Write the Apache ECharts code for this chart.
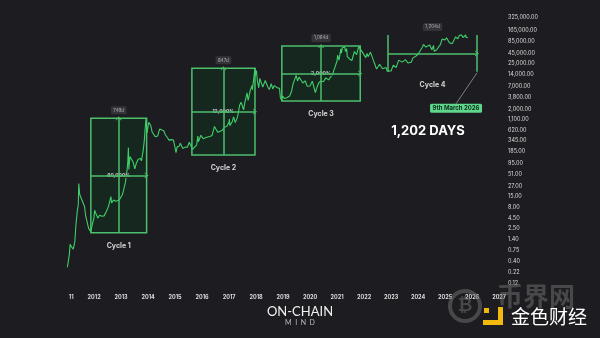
<!DOCTYPE html>
<html><head><meta charset="utf-8">
<script src="https://cdn.jsdelivr.net/npm/echarts@6/dist/echarts.min.js"></script>
<style>html,body{margin:0;padding:0;background:#1c1c21;}#c{width:600px;height:338px;}</style>
</head><body><div id="c"></div>
<script>
// ---- price history (approx.) ----
const dates = [
'2011-01-05','2011-02-01','2011-02-10','2011-03-01','2011-03-25','2011-04-15','2011-05-01','2011-05-20','2011-06-01','2011-06-08','2011-06-20','2011-07-01','2011-07-20','2011-08-10','2011-08-25','2011-09-10','2011-10-01','2011-10-20','2011-11-18','2011-12-05','2011-12-31',
'2012-01-08','2012-01-25','2012-02-20','2012-03-15','2012-04-15','2012-05-15','2012-06-15','2012-07-15','2012-08-16','2012-08-25','2012-09-20','2012-10-20','2012-11-20','2012-12-20',
'2013-01-20','2013-02-10','2013-02-28','2013-03-20','2013-04-01','2013-04-10','2013-04-16','2013-04-30','2013-05-20','2013-06-15','2013-07-05','2013-07-25','2013-08-20','2013-09-20','2013-10-03','2013-10-25','2013-11-10','2013-11-20','2013-12-04','2013-12-18','2013-12-31',
'2014-01-10','2014-02-05','2014-02-25','2014-03-20','2014-04-10','2014-05-10','2014-06-05','2014-07-01','2014-08-01','2014-08-20','2014-09-20','2014-10-10','2014-11-10','2014-12-10','2014-12-31',
'2015-01-14','2015-01-28','2015-02-25','2015-03-12','2015-04-15','2015-05-15','2015-06-15','2015-07-12','2015-08-01','2015-08-24','2015-09-20','2015-10-20','2015-11-04','2015-11-12','2015-12-15','2015-12-31',
'2016-01-15','2016-02-15','2016-03-15','2016-04-15','2016-05-15','2016-06-17','2016-07-01','2016-08-02','2016-09-01','2016-10-01','2016-11-01','2016-12-01','2016-12-31',
'2017-01-05','2017-01-12','2017-02-15','2017-03-03','2017-03-25','2017-04-25','2017-05-25','2017-06-12','2017-07-16','2017-08-01','2017-09-01','2017-09-15','2017-10-15','2017-11-08','2017-11-12','2017-12-17','2017-12-22','2017-12-31',
'2018-01-06','2018-01-17','2018-02-06','2018-02-20','2018-03-05','2018-04-01','2018-05-05','2018-06-10','2018-06-29','2018-07-25','2018-08-14','2018-09-04','2018-10-15','2018-11-14','2018-11-25','2018-12-15','2018-12-24',
'2019-01-25','2019-02-25','2019-03-31','2019-04-25','2019-05-15','2019-06-26','2019-07-16','2019-08-06','2019-09-24','2019-10-26','2019-11-24','2019-12-18','2019-12-31',
'2020-01-31','2020-02-13','2020-03-12','2020-03-31','2020-04-30','2020-05-31','2020-06-30','2020-07-31','2020-08-17','2020-09-08','2020-10-31','2020-11-30','2020-12-31',
'2021-01-08','2021-01-27','2021-02-21','2021-02-28','2021-03-13','2021-04-14','2021-04-25','2021-05-10','2021-05-19','2021-06-22','2021-07-20','2021-08-23','2021-09-21','2021-10-20','2021-11-10','2021-12-04','2021-12-31',
'2022-01-24','2022-02-10','2022-02-24','2022-03-28','2022-05-12','2022-06-18','2022-07-30','2022-08-15','2022-09-07','2022-10-25','2022-11-09','2022-11-21','2022-12-31',
'2023-01-31','2023-02-16','2023-03-10','2023-04-14','2023-05-31','2023-06-15','2023-07-13','2023-08-17','2023-09-30','2023-10-24','2023-11-30','2023-12-31',
'2024-01-23','2024-02-28','2024-03-14','2024-04-15','2024-05-01','2024-06-07','2024-07-05','2024-07-29','2024-08-05','2024-09-06','2024-10-29','2024-11-22','2024-12-17','2024-12-31',
'2025-01-21','2025-02-28','2025-03-25','2025-04-08','2025-05-22','2025-06-22','2025-07-14','2025-08-02','2025-08-14','2025-09-01','2025-10-06','2025-10-10','2025-10-27','2025-11-04'
];
const prices = [
0.29,0.6,1.05,0.9,0.8,1.2,3.2,7,9.5,31,17,15,13.5,10,8.5,5,5,2.5,2.1,3,4.7,
7,5.8,4.5,5.3,5,5.1,6.5,8.8,15,10.5,12.3,11.5,12,13.4,
17,24,33,60,100,230,68,140,122,100,70,95,120,125,110,190,330,600,1150,520,750,
950,800,550,580,420,440,650,640,590,480,400,350,360,350,320,
175,240,250,295,220,237,235,310,280,210,230,270,440,320,460,430,
380,400,415,430,455,750,670,540,575,610,730,750,960,
1130,780,1010,1280,930,1280,2500,2900,1900,2800,4900,3200,5700,7400,5800,19600,13000,13800,
17000,10000,6500,11000,11500,6800,9800,6700,5900,8200,6100,7350,6500,6300,3800,3200,4100,
3550,3800,4100,5300,8000,13000,9500,11900,8500,9600,7100,6600,7200,
9400,10350,5000,6400,8700,9500,9150,11300,12300,10100,13800,19700,29000,
40000,30500,57000,45000,61000,63500,49000,58000,37000,32000,29800,49500,41000,65000,67500,49000,46300,
35000,44000,37000,47500,28500,18500,24000,24300,18800,20100,16500,15800,16550,
23100,24700,20000,30500,27200,25000,31400,26000,27000,34500,37700,42300,
39500,62500,73000,63000,57500,71000,54500,69000,50000,53500,72500,99000,107000,93400,
106000,80000,88000,76500,111000,100500,122000,113000,123000,107500,124500,110000,115000,106000
];

// ---- cycles ----
const cycleNames = ['Cycle 1','Cycle 2','Cycle 3','Cycle 4'];
const cycleStart = ['2011-11-18','2015-08-16','2018-12-15','2022-11-21'];
const cycleEnd   = ['2013-12-12','2017-12-17','2021-11-10','2026-03-09'];
const cycleLow   = [2.0, 152, 3100, 15900];
const cycleHigh  = [1180, 19300, 67000, 123000];
const cycleDays  = ['749d','847d','1,064d','1,204d'];
const cycleGain  = ['60,000%','12,000%','2,000%'];

// ---- axis ticks ----
const xTicks = ['2011-02-25','2012-01-01','2013-01-01','2014-01-01','2015-01-01','2016-01-01','2017-01-01','2018-01-01','2019-01-01','2020-01-01','2021-01-01','2022-01-01','2023-01-01','2024-01-01','2025-01-01','2026-01-01','2027-01-01'];
const yTicks = [0.12,0.22,0.40,0.75,1.40,2.50,4.50,8.00,15,27,51,95,185,345,620,1100,2000,3800,7000,14000,25000,45000,85000,165000,325000];

// date string -> decimal year
const yr = s => {
  const d = new Date(s + 'T00:00:00Z'), y = d.getUTCFullYear();
  const a = Date.UTC(y, 0, 1), b = Date.UTC(y + 1, 0, 1);
  return y + (d.getTime() - a) / (b - a);
};
const GREEN = '#4cc06c';
const FILL = '#16271f';
const chevron = 'path://M0,10 L5,0 L10,10 L8.4,10 L5,3.2 L1.6,10 Z';

const areaData = [], lineData = [], dayLabels = [], nameLabels = [], gainLabels = [];
for (let i = 0; i < cycleNames.length; i++) {
  const t0 = yr(cycleStart[i]), t1 = yr(cycleEnd[i]), tm = (t0 + t1) / 2;
  const mid = Math.sqrt(cycleLow[i] * cycleHigh[i]);
  lineData.push([{coord: [t0, mid], symbol: 'none'}, {coord: [t1, mid]}]);
  if (i < 3) {
    areaData.push([{xAxis: t0, yAxis: cycleLow[i]}, {xAxis: t1, yAxis: cycleHigh[i]}]);
    lineData.push([{coord: [tm, cycleLow[i]], symbol: 'none'}, {coord: [tm, cycleHigh[i]]}]);
    gainLabels.push({value: [tm, mid], name: cycleGain[i]});
  } else {
    lineData.push([{coord: [t0, cycleLow[i]], symbol: 'none'}, {coord: [t0, cycleHigh[i]], symbol: 'none'}]);
    lineData.push([{coord: [t1, cycleLow[i]], symbol: 'none'}, {coord: [t1, cycleHigh[i]], symbol: 'none'}]);
  }
  dayLabels.push({value: [tm, cycleHigh[i]], name: cycleDays[i]});
  nameLabels.push({value: [tm, cycleLow[i]], name: cycleNames[i]});
}

const chart = echarts.init(document.getElementById('c'), null, {renderer: 'canvas'});
const FONT = 'Inter, "Noto Sans", sans-serif';
const textSeries = (data, label, z) => ({
  type: 'scatter', data, symbolSize: 0, z, silent: true,
  itemStyle: {color: 'rgba(0,0,0,0)'},
  label: Object.assign({show: true, position: 'inside', formatter: '{b}', fontFamily: FONT}, label)
});

chart.setOption({
  animation: false,
  backgroundColor: '#1c1c21',
  grid: {left: 60, right: 97, top: 10, bottom: 51.7},
  xAxis: {
    type: 'value', min: yr('2010-09-27'), max: yr('2027-02-23'),
    axisLine: {show: false}, axisTick: {show: false}, splitLine: {show: false},
    axisLabel: {
      customValues: xTicks.map(yr), margin: 8, color: '#dcdcdc', fontSize: 5.5, fontWeight: 'bold', fontFamily: FONT,
      formatter: v => { const y = Math.floor(v + 1e-6); return y === 2011 ? '11' : String(y); }
    }
  },
  yAxis: {
    type: 'log', position: 'right', min: 0.1, max: 500000,
    axisLine: {show: false}, axisTick: {show: false}, splitLine: {show: false},
    axisLabel: {
      customValues: yTicks, margin: 5, color: '#dcdcdc', fontSize: 5.5, fontFamily: FONT,
      formatter: v => Number(v).toLocaleString('en-US', {minimumFractionDigits: 2, maximumFractionDigits: 2})
    }
  },
  series: [
    {type: 'line', data: [], z: 1, silent: true,
     markArea: {silent: true, itemStyle: {color: FILL, borderColor: GREEN, borderWidth: 1.5}, data: areaData}},
    {type: 'line', name: 'BTC', z: 2, showSymbol: false, symbol: 'none',
     lineStyle: {color: '#3fcf68', width: 1.1}, data: dates.map((d, i) => [yr(d), prices[i]])},
    {type: 'line', data: [], z: 3, silent: true,
     markLine: {silent: true, symbol: ['none', chevron], symbolSize: [6, 4],
       label: {show: false}, lineStyle: {color: GREEN, width: 1.5, type: 'solid'}, data: lineData}},
    textSeries(gainLabels, {color: '#f2f2f2', fontSize: 5, fontWeight: 'bold', backgroundColor: FILL, padding: [0, 1]}, 4),
    textSeries(dayLabels, {color: '#d0d0d0', fontSize: 4.5, backgroundColor: '#3a3a3f', borderRadius: 1.5, padding: [1.5, 2.5], offset: [0, -8]}, 4),
    textSeries(nameLabels, {color: '#ffffff', fontSize: 7, fontWeight: 'bold', offset: [0, 13]}, 4)
  ]
});

// ---- annotations ----
const p = chart.convertToPixel({gridIndex: 0}, [yr(cycleEnd[3]), cycleLow[3]]);
chart.setOption({
  graphic: [
    {type: 'line', shape: {x1: p[0], y1: p[1] + 1, x2: p[0] - 21, y2: p[1] + 32}, style: {stroke: '#9a9a9a', lineWidth: 0.8}, z: 10},
    {type: 'rect', shape: {x: p[0] - 47, y: p[1] + 32, width: 52, height: 9, r: 1.5}, style: {fill: '#5ed68b'}, z: 10},
    {type: 'text', x: p[0] - 21, y: p[1] + 36.7, style: {text: '9th March 2026', fill: '#0f2a18', font: 'bold 6px ' + FONT, align: 'center', verticalAlign: 'middle'}, z: 11},
    {type: 'text', x: 428, y: 131.5, style: {text: '1,202 DAYS', fill: '#ffffff', font: 'bold 13px ' + FONT, align: 'center', verticalAlign: 'middle'}, z: 10},
    {type: 'text', x: 300, y: 311.5, style: {text: 'ON-CHAIN', fill: '#f0f0f0', font: '13px Lato, sans-serif', align: 'center', verticalAlign: 'middle'}, z: 10},
    {type: 'text', x: 300, y: 322.5, style: {text: 'M  I  N  D', fill: '#bdbdbd', font: '7px Lato, sans-serif', align: 'center', verticalAlign: 'middle'}, z: 10},
    {type: 'circle', shape: {cx: 465, cy: 306, r: 15}, style: {fill: 'none', stroke: 'rgba(110,110,110,0.55)', lineWidth: 4}, z: 9},
    {type: 'text', x: 465, y: 306, style: {text: '₿', fill: 'rgba(110,110,110,0.55)', font: 'bold 18px "DejaVu Sans", sans-serif', align: 'center', verticalAlign: 'middle'}, z: 9},
    {type: 'text', x: 536, y: 296, style: {text: '币界网', fill: 'rgba(110,110,110,0.55)', font: 'bold 26px "Noto Sans CJK SC", sans-serif', align: 'center', verticalAlign: 'middle'}, z: 9},
    {type: 'rect', shape: {x: 484, y: 308, width: 5, height: 5}, style: {fill: '#f0b90b'}, z: 10},
    {type: 'rect', shape: {x: 498, y: 307, width: 5, height: 18}, style: {fill: '#f0b90b'}, z: 10},
    {type: 'rect', shape: {x: 483, y: 320, width: 20, height: 5}, style: {fill: '#f0b90b'}, z: 10},
    {type: 'text', x: 549, y: 317, style: {text: '金色财经', fill: '#ffffff', font: '19px "Noto Sans CJK SC", sans-serif', align: 'center', verticalAlign: 'middle'}, z: 10}
  ]
});
</script></body></html>
